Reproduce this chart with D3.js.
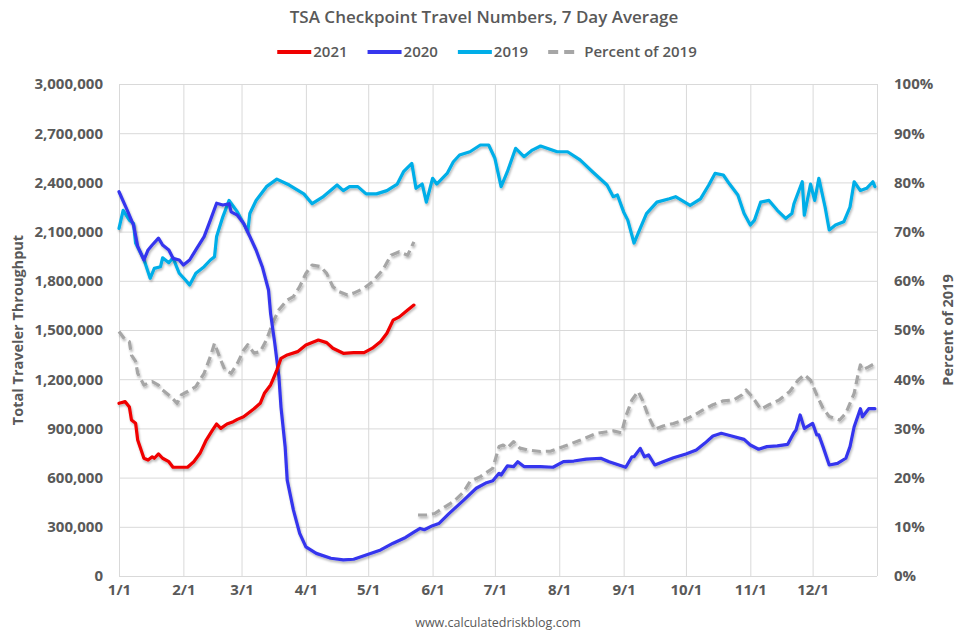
<!DOCTYPE html>
<html>
<head>
<meta charset="utf-8">
<script src="https://cdn.jsdelivr.net/npm/d3@7"></script>
<style>
  body { margin: 0; background: #fff; }
  text { font-family: "Open Sans", sans-serif; fill: #595959; }
</style>
</head>
<body>
<script>
// [day of year (0 = Jan 1), travelers in thousands]
var tsa2021 = [
  [0,1053],[3,1063],[5,1030],[6,951],[8,931],[9,829],[12,718],[14,707],[16,727],[17,718],
  [19,744],[21,718],[24,697],[26,663],[29,663],[33,663],[36,697],[39,748],[42,829],[45,890],
  [47,927],[49,900],[52,927],[55,941],[57,955],[60,971],[65,1020],[68,1053],[70,1114],[73,1165],
  [74,1195],[76,1256],[78,1327],[81,1348],[86,1368],[90,1409],[96,1439],[100,1423],[103,1389],
  [108,1358],[113,1362],[118,1362],[122,1389],[126,1430],[129,1480],[132,1560],[135,1580],
  [139,1622],[142,1652]
];
var tsa2020 = [
  [0,2343],[4,2230],[7,2140],[9,2010],[12,1927],[14,1988],[16,2018],[19,2060],[21,2018],[24,1988],
  [26,1937],[29,1927],[31,1896],[34,1927],[37,1988],[41,2069],[44,2170],[47,2273],[50,2262],
  [53,2270],[54,2220],[57,2200],[60,2150],[63,2070],[66,1988],[69,1886],[72,1744],[73,1600],
  [75,1420],[77,1215],[78,1030],[80,788],[81,585],[84,402],[87,260],[90,178],[95,138],[102,108],
  [108,98],[113,102],[119,128],[126,159],[132,200],[138,235],[142,267],[145,290],[147,282],
  [151,307],[154,320],[159,382],[166,463],[172,535],[177,569],[180,581],[183,626],[184,616],
  [187,671],[190,667],[192,697],[195,667],[203,667],[209,663],[214,697],[219,701],[225,713],
  [232,718],[236,697],[244,663],[247,727],[248,727],[251,778],[253,727],[255,738],[258,677],
  [262,697],[267,721],[273,744],[278,768],[282,809],[286,854],[290,870],[295,854],[301,833],
  [304,799],[308,773],[312,789],[317,793],[322,803],[325,874],[326,890],[328,982],[330,900],
  [334,931],[336,860],[337,860],[339,789],[342,677],[346,687],[350,718],[352,789],[354,910],
  [357,1020],[358,971],[361,1020],[364,1020]
];
var tsa2019 = [
  [0,2120],[2,2230],[5,2170],[7,2150],[8,2030],[12,1930],[15,1815],[17,1876],[20,1886],[21,1940],
  [24,1910],[26,1940],[29,1846],[32,1805],[34,1774],[37,1846],[41,1886],[44,1927],[46,1947],
  [47,2070],[50,2190],[53,2290],[57,2220],[60,2150],[62,2100],[63,2210],[66,2290],[71,2374],
  [76,2420],[82,2384],[89,2330],[93,2270],[98,2310],[105,2384],[108,2350],[111,2374],[115,2374],
  [119,2330],[124,2330],[129,2350],[134,2390],[137,2465],[141,2516],[143,2364],[146,2390],
  [148,2280],[151,2425],[153,2390],[158,2455],[161,2526],[164,2567],[169,2587],[174,2628],
  [178,2628],[181,2547],[184,2374],[187,2465],[191,2608],[195,2557],[199,2597],[203,2622],
  [211,2587],[216,2587],[222,2537],[228,2465],[235,2384],[238,2313],[240,2323],[243,2220],
  [245,2170],[248,2030],[250,2090],[254,2210],[259,2280],[265,2300],[268,2313],[275,2260],
  [280,2300],[284,2384],[287,2455],[291,2445],[294,2390],[298,2323],[301,2210],[304,2140],
  [306,2170],[309,2280],[313,2290],[317,2230],[321,2180],[324,2210],[325,2270],[329,2404],
  [330,2200],[333,2390],[335,2290],[337,2425],[340,2250],[342,2110],[345,2140],[349,2160],
  [352,2250],[354,2404],[357,2350],[360,2364],[363,2404],[364,2374]
];
// percent of 2019, null = gap in the line
var pctOf2019 = [
  [0,49.7],[3,48],[5,47.6],[6,44.9],[8,43.6],[9,41.2],[12,38.8],[14,39.2],[16,39.5],[19,38.8],
  [21,37.8],[25,36.4],[28,35.1],[30,36.8],[33,37.5],[37,38.5],[41,41.2],[44,44.6],[46,47.3],
  [49,43.9],[51,41.9],[54,41.2],[57,43.2],[60,45.9],[62,47],[65,45.3],[68,45.6],[71,48],[74,51.4],
  [77,54.1],[81,56.1],[84,56.8],[87,58.8],[90,61.5],[93,63.2],[97,62.9],[100,61.5],[103,58.8],
  [106,57.8],[110,57.1],[113,57.5],[118,58.5],[122,59.8],[127,62.2],[131,65.2],[135,65.9],
  [139,65.2],[142,67.9],[143,null],
  [144,12.4],[148,12.4],[152,12.7],[156,13.8],[161,15.1],[166,17.1],[169,19.2],[174,20.2],
  [180,21.9],[183,26.3],[185,26.6],[187,26],[190,27.3],[193,26],[197,25.6],[203,25.3],[208,25.4],
  [214,26.3],[222,27.6],[230,29],[238,29.5],[242,29.1],[244,32.4],[247,35.8],[250,37.5],
  [252,35.8],[255,32.4],[258,29.8],[262,30.5],[267,31],[272,31.7],[277,32.7],[281,33.7],
  [286,34.8],[291,35.6],[296,35.8],[300,36.8],[302,37.8],[305,36.4],[309,33.9],[313,34.8],
  [318,35.8],[323,37.5],[327,39.8],[330,40.9],[333,39.8],[336,36.8],[339,34.1],[342,32.4],
  [347,31.7],[350,33.1],[354,37.1],[356,41.2],[357,42.9],[358,41.9],[361,42.5],[364,43.2]
];
var monthLabels = ['1/1','2/1','3/1','4/1','5/1','6/1','7/1','8/1','9/1','10/1','11/1','12/1'];
var monthStarts = [0,31,59,90,120,151,181,212,243,273,304,334];
var leftTicks = [0,300,600,900,1200,1500,1800,2100,2400,2700,3000];
var rightTicks = [0,10,20,30,40,50,60,70,80,90,100];

var width = 956, height = 631;
var plotLeft = 119, plotRight = 877, plotTop = 84, plotBottom = 576;

var svg = d3.select('body').append('svg')
  .attr('width', width)
  .attr('height', height);

// soft shadow under the lines, like the spreadsheet chart
var shadow = svg.append('defs').append('filter')
  .attr('id', 'shadow')
  .attr('x', '-5%').attr('y', '-5%')
  .attr('width', '110%').attr('height', '110%');
shadow.append('feDropShadow')
  .attr('dx', 1).attr('dy', 2)
  .attr('stdDeviation', 1.3)
  .attr('flood-color', '#000')
  .attr('flood-opacity', 0.28);

var x = d3.scaleLinear().domain([0, 365]).range([plotLeft, plotRight]);
var y = d3.scaleLinear().domain([0, 3000]).range([plotBottom, plotTop]);
var yPct = d3.scaleLinear().domain([0, 100]).range([plotBottom, plotTop]);

function styleLabels(sel) {
  sel.attr('font-size', '15px')
    .attr('font-weight', 'bold')
    .attr('fill', '#595959')
    .attr('font-family', '"Open Sans", sans-serif');
}

// gridlines
svg.append('g')
  .attr('transform', 'translate(' + plotLeft + ',0)')
  .call(d3.axisLeft(y).tickValues(leftTicks).tickSize(-(plotRight - plotLeft)).tickFormat(''))
  .call(function(g) { g.select('.domain').remove(); })
  .selectAll('line')
  .attr('stroke', '#d9d9d9');

svg.append('g')
  .attr('transform', 'translate(0,' + plotBottom + ')')
  .call(d3.axisBottom(x).tickValues(monthStarts.concat([365])).tickSize(-(plotBottom - plotTop)).tickFormat(''))
  .call(function(g) { g.select('.domain').remove(); })
  .selectAll('line')
  .attr('stroke', '#d9d9d9');

// left axis labels
var fmt = d3.format(',');
svg.append('g')
  .attr('transform', 'translate(' + plotLeft + ',0)')
  .call(d3.axisLeft(y).tickValues(leftTicks).tickSize(0).tickPadding(16)
    .tickFormat(function(d) { return fmt(d * 1000); }))
  .call(function(g) { g.select('.domain').remove(); })
  .selectAll('text')
  .call(styleLabels);

// right axis labels
svg.append('g')
  .attr('transform', 'translate(' + plotRight + ',0)')
  .call(d3.axisRight(yPct).tickValues(rightTicks).tickSize(0).tickPadding(17)
    .tickFormat(function(d) { return d + '%'; }))
  .call(function(g) { g.select('.domain').remove(); })
  .selectAll('text')
  .call(styleLabels);

// bottom axis labels
svg.append('g')
  .attr('transform', 'translate(0,' + plotBottom + ')')
  .call(d3.axisBottom(x).tickValues(monthStarts).tickSize(0).tickPadding(8)
    .tickFormat(function(d, i) { return monthLabels[i]; }))
  .call(function(g) { g.select('.domain').remove(); })
  .selectAll('text')
  .call(styleLabels);

// axis titles
svg.append('text')
  .attr('transform', 'translate(23,' + ((plotTop + plotBottom) / 2) + ') rotate(-90)')
  .attr('text-anchor', 'middle')
  .attr('font-size', '14.5px')
  .attr('font-weight', 'bold')
  .text('Total Traveler Throughput');

svg.append('text')
  .attr('transform', 'translate(953,' + ((plotTop + plotBottom) / 2) + ') rotate(-90)')
  .attr('text-anchor', 'middle')
  .attr('font-size', '14.5px')
  .attr('font-weight', 'bold')
  .text('Percent of 2019');

// title
svg.append('text')
  .attr('x', 484)
  .attr('y', 23)
  .attr('text-anchor', 'middle')
  .attr('font-size', '17px')
  .attr('font-weight', 600)
  .text('TSA Checkpoint Travel Numbers, 7 Day Average');

// footer
svg.append('text')
  .attr('x', 498)
  .attr('y', 627)
  .attr('text-anchor', 'middle')
  .attr('font-size', '12.5px')
  .text('www.calculatedriskblog.com');

// lines
var line = d3.line()
  .defined(function(d) { return d[1] !== null; })
  .x(function(d) { return x(d[0]); })
  .y(function(d) { return y(d[1]); });

var pctLine = d3.line()
  .defined(function(d) { return d[1] !== null; })
  .x(function(d) { return x(d[0]); })
  .y(function(d) { return yPct(d[1]); });

var series = [
  { name: '2021', data: tsa2021, color: '#f00000', dash: null, gen: line },
  { name: '2020', data: tsa2020, color: '#3636ee', dash: null, gen: line },
  { name: '2019', data: tsa2019, color: '#00aee8', dash: null, gen: line },
  { name: 'Percent of 2019', data: pctOf2019, color: '#a6a6a6', dash: '9,5', gen: pctLine }
];

// draw order: 2019 bottom, then percent, 2020, 2021 on top
[2, 3, 1, 0].forEach(function(i) {
  var s = series[i];
  svg.append('path')
    .datum(s.data)
    .attr('d', s.gen)
    .attr('fill', 'none')
    .attr('stroke', s.color)
    .attr('stroke-width', 3.2)
    .attr('stroke-linejoin', 'round')
    .attr('stroke-linecap', s.dash ? 'butt' : 'round')
    .attr('stroke-dasharray', s.dash)
    .attr('filter', 'url(#shadow)');
});

// legend
var legend = svg.append('g');
var lx = 0;
var items = legend.selectAll('g')
  .data(series)
  .enter()
  .append('g');

items.append('line')
  .attr('x1', 0).attr('x2', function(d) { return d.dash ? 26 : 34; })
  .attr('y1', 0).attr('y2', 0)
  .attr('stroke', function(d) { return d.color; })
  .attr('stroke-width', 4)
  .attr('stroke-dasharray', function(d) { return d.dash ? '10,6' : null; });

items.append('text')
  .attr('x', function(d) { return d.dash ? 36 : 36; })
  .attr('y', 5)
  .attr('font-size', '15px')
  .attr('font-weight', 600)
  .text(function(d) { return d.name; });

items.each(function(d) {
  var w = this.getBBox().width;
  d3.select(this).attr('transform', 'translate(' + lx + ',0)');
  lx += w + 20;
});
legend.attr('transform', 'translate(' + (487 - (lx - 20) / 2) + ',52)');
</script>
</body>
</html>
